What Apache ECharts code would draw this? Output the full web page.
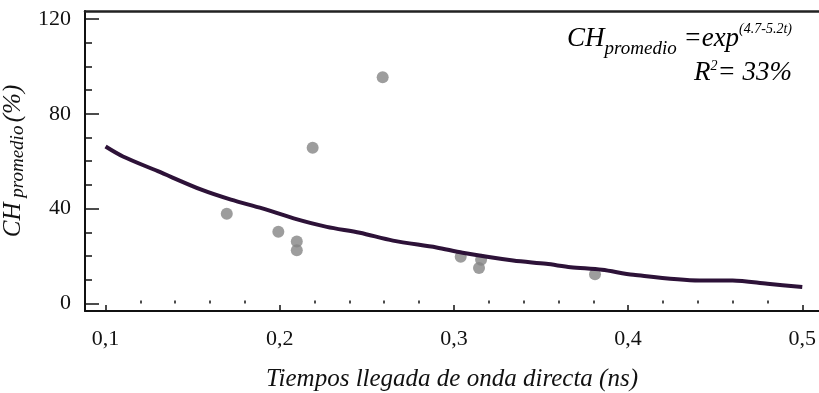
<!DOCTYPE html>
<html>
<head>
<meta charset="utf-8">
<script src="https://cdn.jsdelivr.net/npm/echarts@6/dist/echarts.min.js"></script>
<style>
html,body{margin:0;padding:0;background:#fff;}
#chart{width:819px;height:393px;}
</style>
</head>
<body>
<div id="chart"></div>
<script>
// Observed points: arrival time (ns) vs CH promedio (%)
const pointTimes = [0.1696, 0.1992, 0.2098, 0.2098, 0.2189, 0.2591, 0.3039, 0.3144, 0.3156, 0.3810];
const pointValues = [37.8, 30.2, 26.1, 22.4, 65.7, 95.4, 19.7, 14.9, 18.4, 12.3];

// Fitted curve
const curveTimes = [0.100, 0.110, 0.130, 0.155, 0.172, 0.190, 0.208, 0.227, 0.246, 0.265, 0.290, 0.305, 0.334, 0.353, 0.367, 0.385, 0.403, 0.441, 0.460, 0.480, 0.500];
const curveValues = [66.2, 62.0, 55.8, 48.0, 43.8, 40.1, 35.9, 32.3, 29.8, 26.5, 23.6, 21.4, 18.1, 16.7, 15.3, 14.2, 12.1, 9.7, 9.7, 8.3, 6.9];

// Tick labels
const xMajorTicks = [0.1, 0.2, 0.3, 0.4, 0.5];
const xMinorTicks = [0.12, 0.14, 0.16, 0.18, 0.22, 0.24, 0.26, 0.28, 0.32, 0.34, 0.36, 0.38, 0.42, 0.44, 0.46, 0.48];
const yMajorTicks = [0, 40, 80, 120];
const yMinorTicks = [10, 20, 30, 50, 60, 70, 90, 100, 110];

const xMin = 0.0882, xMax = 0.5096;
const yMin = -3.2, yMax = 123.4;
const serif = '"Liberation Serif", "DejaVu Serif", serif';

const chart = echarts.init(document.getElementById('chart'));
chart.setOption({
  backgroundColor: '#ffffff',
  animation: false,
  grid: {left: 85, right: 0, top: 11, bottom: 82, containLabel: false, outerBoundsMode: 'none'},
  xAxis: [
    {
      type: 'value', min: xMin, max: xMax, position: 'bottom',
      axisLine: {show: true, onZero: false, lineStyle: {color: '#111', width: 2}},
      axisTick: {show: true, inside: true, length: 6, customValues: xMajorTicks, lineStyle: {color: '#111', width: 1.5}},
      axisLabel: {show: true, customValues: xMajorTicks, margin: 17, color: '#111', fontFamily: serif, fontSize: 22,
        formatter: v => v.toFixed(1).replace('.', ',')},
      splitLine: {show: false},
      name: 'Tiempos llegada de onda directa (ns)',
      nameLocation: 'middle', nameGap: 56,
      nameTextStyle: {fontFamily: serif, fontStyle: 'italic', fontSize: 25, color: '#111'}
    },
    {
      type: 'value', min: xMin, max: xMax, position: 'bottom',
      axisLine: {show: false},
      axisTick: {show: true, inside: true, length: 3, customValues: xMinorTicks, lineStyle: {color: '#111', width: 1.5}},
      axisLabel: {show: false},
      splitLine: {show: false}
    },
    {
      type: 'value', min: xMin, max: xMax, position: 'top',
      axisLine: {show: true, onZero: false, lineStyle: {color: '#222', width: 2.5}},
      axisTick: {show: false}, axisLabel: {show: false}, splitLine: {show: false}
    }
  ],
  yAxis: [
    {
      type: 'value', min: yMin, max: yMax, position: 'left',
      axisLine: {show: true, onZero: false, lineStyle: {color: '#111', width: 2}},
      axisTick: {show: true, inside: true, length: 14, customValues: yMajorTicks, lineStyle: {color: '#111', width: 1.5}},
      axisLabel: {show: true, customValues: yMajorTicks, margin: 14, color: '#111', fontFamily: serif, fontSize: 22},
      splitLine: {show: false},
      name: '{a|CH}{b| promedio} {a|(%)}',
      nameLocation: 'middle', nameGap: 52, nameRotate: 90,
      nameTextStyle: {
        rich: {
          a: {fontFamily: serif, fontStyle: 'italic', fontSize: 25, color: '#111'},
          b: {fontFamily: serif, fontStyle: 'italic', fontSize: 19, color: '#111', padding: [8, 0, 0, 0]}
        }
      }
    },
    {
      type: 'value', min: yMin, max: yMax, position: 'left',
      axisLine: {show: false},
      axisTick: {show: true, inside: true, length: 7, customValues: yMinorTicks, lineStyle: {color: '#111', width: 1.5}},
      axisLabel: {show: false},
      splitLine: {show: false}
    }
  ],
  graphic: [
    {
      type: 'text', right: 27, top: 22,
      style: {
        text: '{a|CH}{s|promedio}{a| =exp}{p|(4.7-5.2t)}',
        align: 'right',
        rich: {
          a: {fontFamily: serif, fontStyle: 'italic', fontSize: 27, color: '#111', verticalAlign: 'bottom'},
          s: {fontFamily: serif, fontStyle: 'italic', fontSize: 19, color: '#111', padding: [0, 0, -6, 0], verticalAlign: 'bottom'},
          p: {fontFamily: serif, fontStyle: 'italic', fontSize: 14, color: '#111', padding: [0, 0, 16, 0], verticalAlign: 'bottom'}
        }
      }
    },
    {
      type: 'text', right: 27, top: 59,
      style: {
        text: '{a|R}{p|2}{a|= 33%}',
        rich: {
          a: {fontFamily: serif, fontStyle: 'italic', fontSize: 27, color: '#111', verticalAlign: 'bottom'},
          p: {fontFamily: serif, fontStyle: 'italic', fontSize: 14, color: '#111', padding: [0, 0, 13, 0], verticalAlign: 'bottom'}
        }
      }
    }
  ],
  series: [
    {
      type: 'line', xAxisIndex: 0, yAxisIndex: 0,
      data: curveTimes.map((t, i) => [t, curveValues[i]]),
      smooth: 0.3, showSymbol: false, symbol: 'none',
      lineStyle: {color: '#2d1238', width: 4},
      z: 3
    },
    {
      type: 'scatter', xAxisIndex: 0, yAxisIndex: 0,
      data: pointTimes.map((t, i) => [t, pointValues[i]]),
      symbol: 'circle', symbolSize: 12,
      itemStyle: {color: '#858585'},
      z: 2
    }
  ]
});
</script>
</body>
</html>
